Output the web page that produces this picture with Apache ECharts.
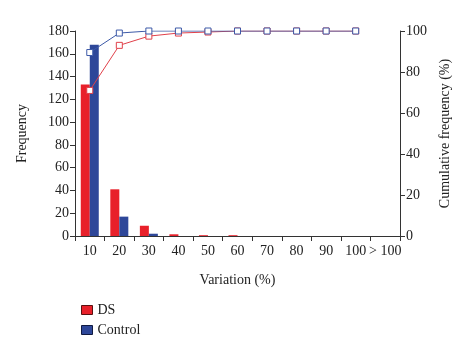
<!DOCTYPE html>
<html>
<head>
<meta charset="utf-8">
<script src="https://cdn.jsdelivr.net/npm/echarts@6/dist/echarts.min.js"></script>
<style>
  html, body { margin: 0; padding: 0; background: #fff; }
  #chart { width: 464px; height: 344px; }
</style>
</head>
<body>
<div id="chart"></div>
<script>
const categories = ['10', '20', '30', '40', '50', '60', '70', '80', '90', '100', '> 100']
const dsFreq = [133, 41, 9, 1.5, 0.7, 0.7, 0, 0, 0, 0, 0]
const controlFreq = [168, 17, 2, 0, 0, 0, 0, 0, 0, 0, 0]
const dsCum = [71, 93, 97.5, 99, 99.5, 100, 100, 100, 100, 100]
const controlCum = [89.5, 99, 100, 100, 100, 100, 100, 100, 100, 100]

const font = '"Liberation Serif", "DejaVu Serif", serif'
const axisColor = '#333'
const legendText = { fontFamily: font, fontSize: 14, color: '#222' }

const option = {
  animation: false,
  textStyle: { fontFamily: font, color: '#222' },
  grid: { left: 75, right: 64, top: 31, bottom: 108 },
  legend: {
    orient: 'vertical',
    left: 76,
    top: 298,
    itemWidth: 11,
    itemHeight: 9,
    itemGap: 6,
    textStyle: legendText,
    data: [
      { name: 'DS', icon: 'rect', textStyle: legendText, itemStyle: { borderColor: '#5a1010', borderWidth: 1 } },
      { name: 'Control', icon: 'rect', textStyle: legendText, itemStyle: { borderColor: '#101a40', borderWidth: 1 } }
    ]
  },
  xAxis: {
    type: 'category',
    data: categories,
    name: 'Variation (%)',
    nameLocation: 'middle',
    nameGap: 37,
    nameTextStyle: { fontFamily: font, fontSize: 14, color: '#222' },
    axisLine: { lineStyle: { color: axisColor } },
    axisTick: { show: true, alignWithLabel: false, length: 5, lineStyle: { color: axisColor } },
    axisLabel: { interval: 0, fontFamily: font, fontSize: 14, color: '#222', margin: 8 }
  },
  yAxis: [
    {
      type: 'value',
      min: 0, max: 180, interval: 20,
      name: 'Frequency',
      nameLocation: 'middle',
      nameRotate: 90,
      nameGap: 46,
      nameTextStyle: { fontFamily: font, fontSize: 14, color: '#222' },
      axisLine: { show: true, lineStyle: { color: axisColor } },
      axisTick: { show: true, length: 5, lineStyle: { color: axisColor } },
      splitLine: { show: false },
      axisLabel: { fontFamily: font, fontSize: 14, color: '#222', margin: 6 }
    },
    {
      type: 'value',
      min: 0, max: 100, interval: 20,
      name: 'Cumulative frequency (%)',
      nameLocation: 'middle',
      nameRotate: 90,
      nameGap: 36,
      nameTextStyle: { fontFamily: font, fontSize: 14, color: '#222' },
      axisLine: { show: true, lineStyle: { color: axisColor } },
      axisTick: { show: true, length: 5, lineStyle: { color: axisColor } },
      splitLine: { show: false },
      axisLabel: { fontFamily: font, fontSize: 14, color: '#222', margin: 6 }
    }
  ],
  series: [
    {
      name: 'DS',
      type: 'bar',
      data: dsFreq,
      barWidth: 9,
      barGap: '0%',
      itemStyle: { color: '#e8202a' }
    },
    {
      name: 'Control',
      type: 'bar',
      data: controlFreq,
      barWidth: 9,
      barGap: '0%',
      itemStyle: { color: '#2e4799' }
    },
    {
      name: 'DS cum',
      type: 'line',
      yAxisIndex: 1,
      data: dsCum,
      symbol: 'rect',
      symbolSize: 6,
      lineStyle: { color: '#e0404a', width: 1 },
      itemStyle: { color: '#fff', borderColor: '#e0404a', borderWidth: 1 }
    },
    {
      name: 'Control cum',
      type: 'line',
      yAxisIndex: 1,
      data: controlCum,
      symbol: 'rect',
      symbolSize: 6,
      lineStyle: { color: '#3d5aa8', width: 1 },
      itemStyle: { color: '#fff', borderColor: '#3d5aa8', borderWidth: 1 }
    }
  ]
}

const myChart = echarts.init(document.getElementById('chart'))
myChart.setOption(option)
</script>
</body>
</html>
